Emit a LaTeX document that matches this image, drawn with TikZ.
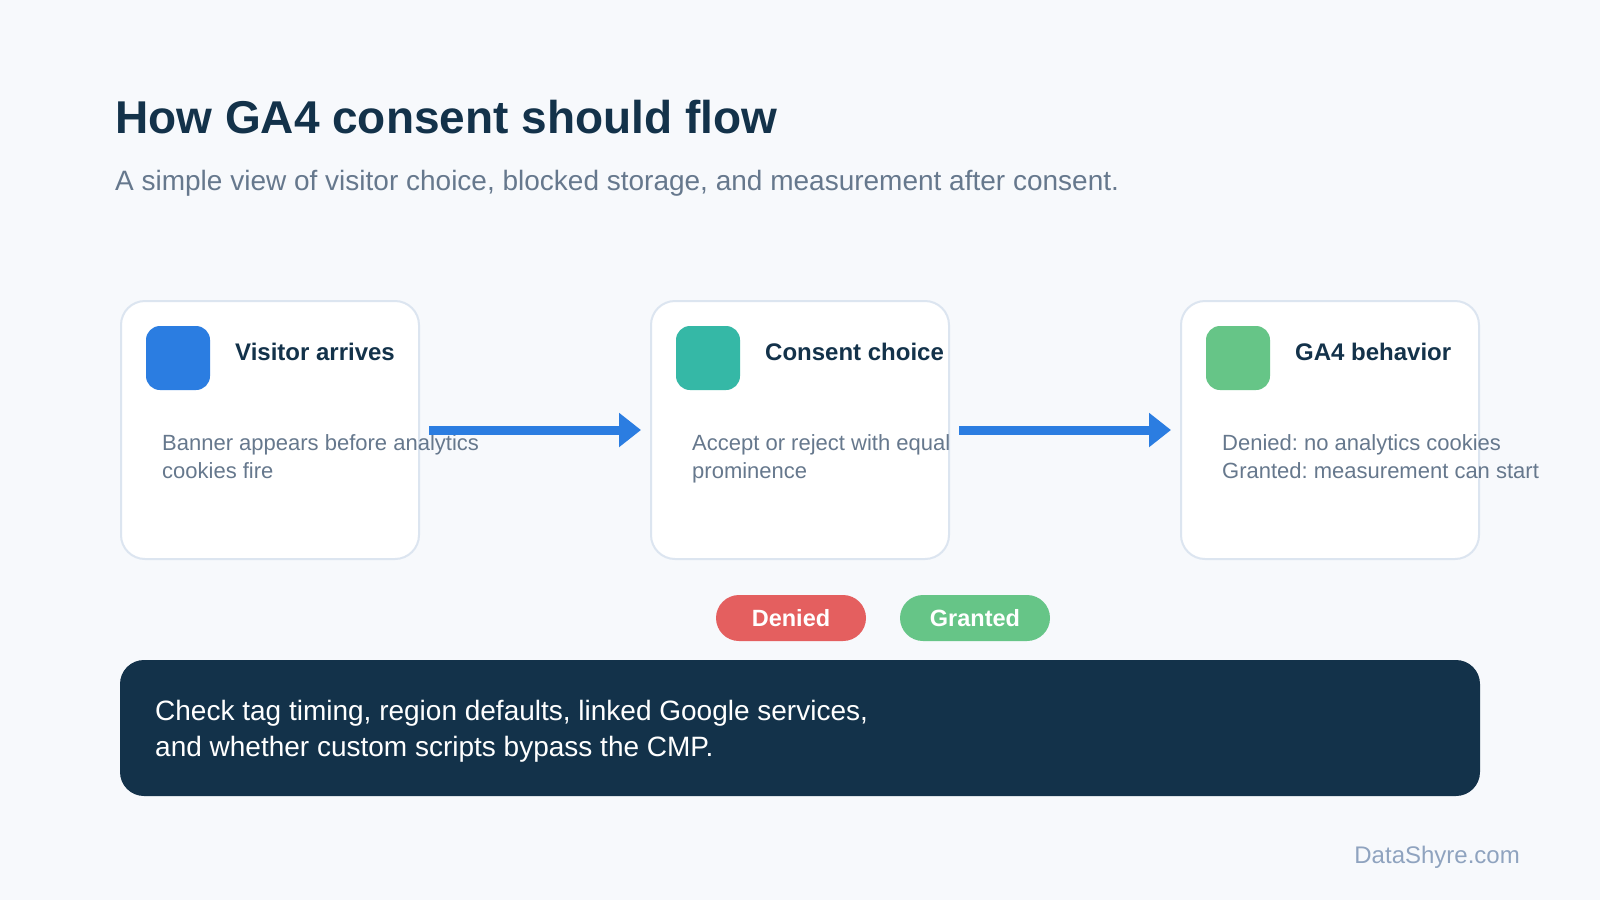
\documentclass[tikz,border=0pt]{standalone}
\usepackage{fontspec}
\setmainfont{Liberation Sans}
\usetikzlibrary{arrows.meta}
\frenchspacing

\definecolor{pagebg}{HTML}{F7F9FC}
\definecolor{headink}{HTML}{13324A}
\definecolor{softink}{HTML}{66788D}
\definecolor{cardline}{HTML}{DCE5F0}
\definecolor{flowblue}{HTML}{2B7DE1}
\definecolor{flowteal}{HTML}{35B8A6}
\definecolor{flowgreen}{HTML}{66C587}
\definecolor{flowred}{HTML}{E45F5F}
\definecolor{brandink}{HTML}{8FA3BF}

\tikzset{>={Triangle[length=22pt,width=33pt]}}
\tikzset{
  card/.style={draw=cardline, line width=2pt, fill=white, rounded corners=24pt,
    minimum width=298pt, minimum height=258pt, inner sep=0pt},
  icon/.style={rounded corners=14pt, minimum size=64pt, inner sep=0pt},
  cardtitle/.style={anchor=base west, inner sep=0pt, text=headink,
    font=\fontsize{24}{29}\selectfont\bfseries},
  carddesc/.style={anchor=base west, inner sep=0pt, text=softink, align=left,
    font=\fontsize{22}{27.5}\selectfont},
  pill/.style={rounded corners=23pt, minimum width=150pt, minimum height=46pt,
    inner sep=0pt, text=white, font=\fontsize{23.5}{28}\selectfont\bfseries},
  flow/.style={->, draw=flowblue, line width=9pt, shorten >=9pt, shorten <=9pt}
}

\begin{document}
\begin{tikzpicture}[x=1pt, y=-1pt]

    \fill[pagebg] (0,0) rectangle (1600,900);
    \useasboundingbox (0,0) rectangle (1600,900);

    \node[anchor=base west, inner sep=0pt, text=headink, font=\fontsize{46}{55}\selectfont\bfseries]
        (heading) at (115,133) {How GA4 consent should flow};
    \node[anchor=base west, inner sep=0pt, text=softink, font=\fontsize{28}{34}\selectfont]
        (subheading) at (115,190) {A simple view of visitor choice, blocked storage, and measurement after consent.};

    \node[card] (visit) at (270,430) {};
    \node[icon, fill=flowblue] (visiticon) at (178,358) {};
    \node[cardtitle] (visittitle) at (235,360) {Visitor arrives};
    % base of a two-line node sits on its last line
    \node[carddesc] (visitdesc) at (162,478) {Banner appears before analytics\\cookies fire};

    \begin{scope}[xshift = 530pt]
        \node[card] (consent) at (270,430) {};
        \node[icon, fill=flowteal] (consenticon) at (178,358) {};
        \node[cardtitle] (consenttitle) at (235,360) {Consent choice};
        \node[carddesc] (consentdesc) at (162,478) {Accept or reject with equal\\prominence};
    \end{scope}

    \begin{scope}[xshift = 1060pt]
        \node[card] (behave) at (270,430) {};
        \node[icon, fill=flowgreen] (behaveicon) at (178,358) {};
        \node[cardtitle] (behavetitle) at (235,360) {GA4 behavior};
        \node[carddesc] (behavedesc) at (162,478) {Denied: no analytics cookies\\Granted: measurement can start};
    \end{scope}

    \draw[flow] (visit) -- (consent);
    \draw[flow] (consent) -- (behave);

    \node[pill, fill=flowred] (denied) at (791,618) {Denied};
    \node[pill, fill=flowgreen] (granted) at (975,618) {Granted};

    \node[fill=headink, rounded corners=24pt, minimum width=1360pt, minimum height=136pt,
        inner sep=0pt] (note) at (800,728) {};
    \node[anchor=base west, inner sep=0pt, text=white, align=left, font=\fontsize{28}{36}\selectfont]
        (notetext) at (155,756) {Check tag timing, region defaults, linked Google services,\\and whether custom scripts bypass the CMP.};

    \node[anchor=base east, inner sep=0pt, text=brandink, font=\fontsize{24}{29}\selectfont]
        (brand) at (1520,863) {DataShyre.com};

\end{tikzpicture}
\end{document}
